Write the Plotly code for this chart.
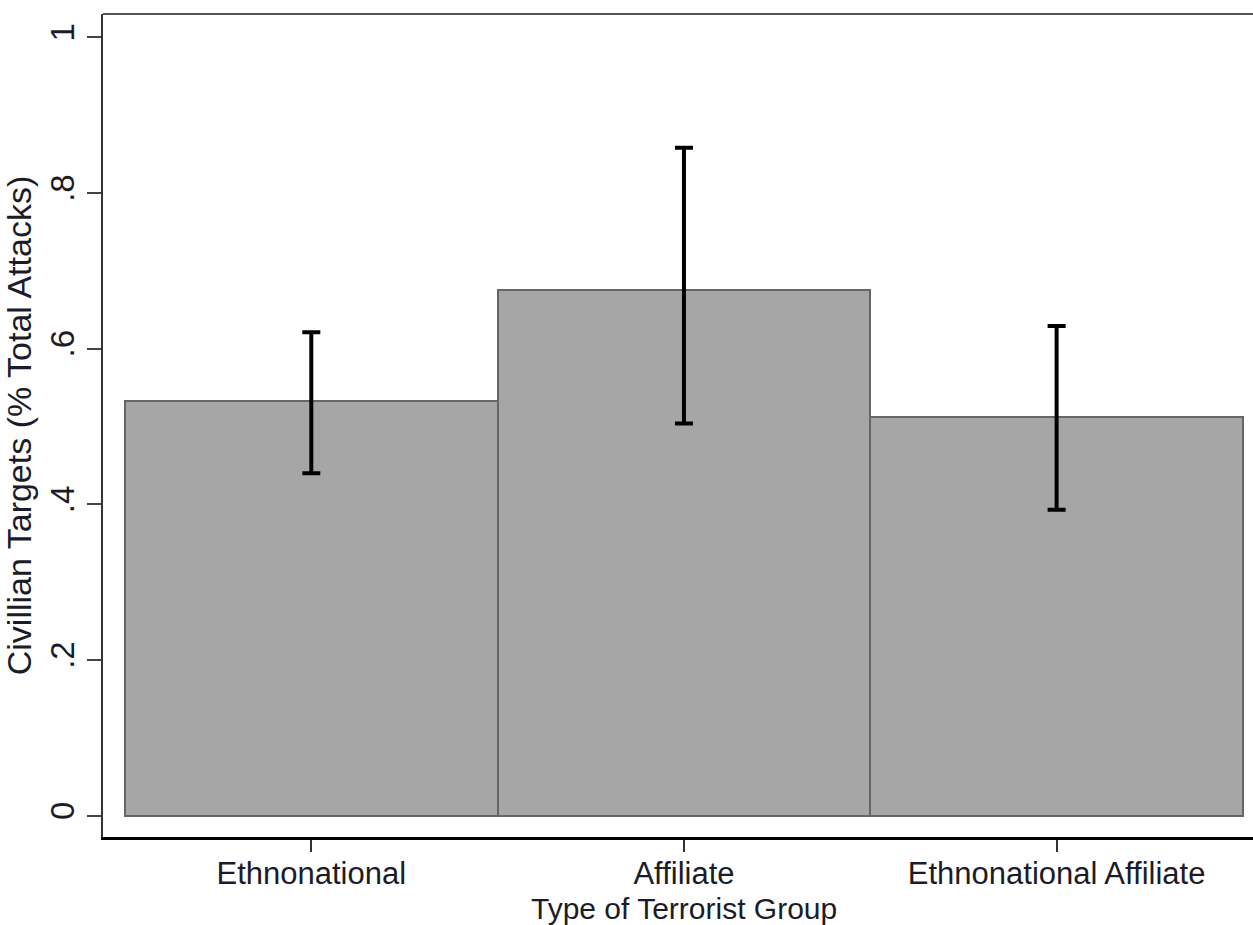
import plotly.graph_objects as go

categories = ["Ethnonational", "Affiliate", "Ethnonational Affiliate"]
means = [0.533, 0.675, 0.512]
ci_lower = [0.440, 0.504, 0.393]
ci_upper = [0.621, 0.858, 0.629]

y_tickvals = [0, 0.2, 0.4, 0.6, 0.8, 1.0]
y_ticktext = ["0", ".2", ".4", ".6", ".8", "1"]

x_title = "Type of Terrorist Group"
y_title = "Civillian Targets (% Total Attacks)"

FONT = "Liberation Sans, Arial, sans-serif"
TXT = "#1c1c28"

err_plus = [u - m for u, m in zip(ci_upper, means)]
err_minus = [m - l for m, l in zip(means, ci_lower)]
xpos = list(range(len(categories)))

fig = go.Figure()
fig.add_trace(go.Bar(
    x=xpos, y=means, width=1.0,
    marker=dict(color="#a6a6a6", line=dict(color="#666666", width=2)),
    error_y=dict(type="data", symmetric=False, array=err_plus, arrayminus=err_minus,
                 color="black", thickness=4, width=9),
    showlegend=False,
))

fig.update_layout(
    width=1253, height=925,
    margin=dict(l=103, r=0, t=14, b=88),
    paper_bgcolor="white", plot_bgcolor="white",
    bargap=0,
    font=dict(family=FONT, color=TXT, size=33),
    xaxis=dict(
        range=[-0.559, 2.527], tickvals=xpos, ticktext=categories,
        showgrid=False, zeroline=False,
        showline=True, linecolor="black", linewidth=3,
        ticks="outside", ticklen=12, tickwidth=2, tickcolor="#333",
        ticklabelstandoff=-5,
        tickfont=dict(size=31, family=FONT, color=TXT),
    ),
    yaxis=dict(
        range=[-0.0274, 1.030], tickvals=y_tickvals, ticktext=y_ticktext,
        tickangle=-90,
        showgrid=False, zeroline=False,
        showline=True, linecolor="#333", linewidth=2,
        ticks="outside", ticklen=14, tickwidth=2, tickcolor="#444",
        tickfont=dict(size=33, family=FONT, color=TXT),
        title=dict(text=y_title, font=dict(size=34, family=FONT, color=TXT), standoff=4),
    ),
    shapes=[dict(type="line", xref="paper", yref="paper", x0=0, x1=1, y0=1, y1=1,
                 line=dict(color="#555", width=2))],
    annotations=[dict(
        text=x_title, xref="x", yref="paper", x=1, y=-0.065,
        xanchor="center", yanchor="top", showarrow=False,
        font=dict(size=30, family=FONT, color=TXT),
    )],
)

fig.write_html("out.html", config={"displayModeBar": False})
